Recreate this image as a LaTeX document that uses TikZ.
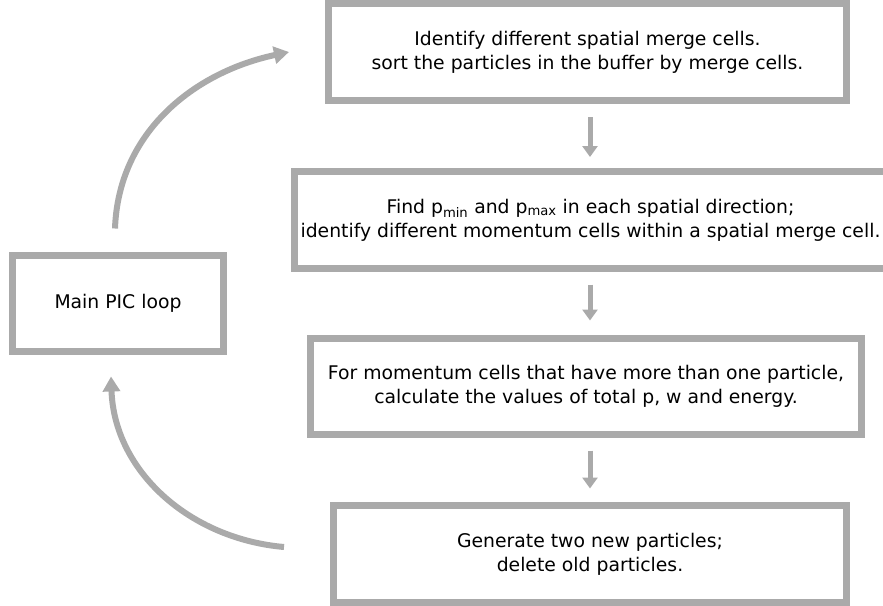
\documentclass[tikz,border=0pt]{standalone}
\usepackage{fontspec}
\setmainfont{DejaVu Sans}
\usetikzlibrary{arrows.meta}
\definecolor{boxgray}{HTML}{AAAAAA}
\begin{document}
\begin{tikzpicture}[x=1pt,y=1pt,
  box/.style={draw=boxgray, line width=7pt, fill=white, inner sep=0pt, align=center,
    font=\fontsize{18.8}{24}\selectfont, text=black},
  varr/.style={draw=boxgray, line width=5pt, -{Triangle[length=11pt,width=15pt]}},
  carr/.style={draw=boxgray, line width=6pt, -{Triangle[length=15pt,width=17pt]}}]
\useasboundingbox (0,0) rectangle (883,-605);
\coordinate (ax) at (590,0);
\node[box, minimum width=518pt, minimum height=97pt] (b1) at (587.5,-52)
  {Identify different spatial merge cells.\\sort the particles in the buffer by merge cells.};
\node[box, minimum width=592pt, minimum height=97pt] (b2) at (590.5,-220)
  {Find p\textsubscript{min} and p\textsubscript{max} in each spatial direction;\\identify different momentum cells within a spatial merge cell.};
\node[box, minimum width=551pt, minimum height=96pt] (b3) at (586,-386.5)
  {For momentum cells that have more than one particle,\\calculate the values of total p, w and energy.};
\node[box, minimum width=513pt, minimum height=97pt] (b4) at (590,-554)
  {Generate two new particles;\\delete old particles.};
\node[box, minimum width=211pt, minimum height=96pt] (main) at (118,-303.5)
  {Main PIC loop};
\draw[varr, shorten <=13pt, shorten >=11pt] (b1.south -| ax) -- (b2.north -| ax);
\draw[varr, shorten <=12.5pt, shorten >=14.5pt] (b2.south -| ax) -- (b3.north -| ax);
\draw[varr, shorten <=12.5pt, shorten >=13.5pt] (b3.south -| ax) -- (b4.north -| ax);
\draw[carr] ([shift={(-3,23.5)}]main.north) to[out=88,in=192] ([xshift=-36pt]b1.west);
\draw[carr] ([shift={(-46,7)}]b4.west) to[out=175,in=-88] ([shift={(-7,-21.5)}]main.south);
\end{tikzpicture}
\end{document}
